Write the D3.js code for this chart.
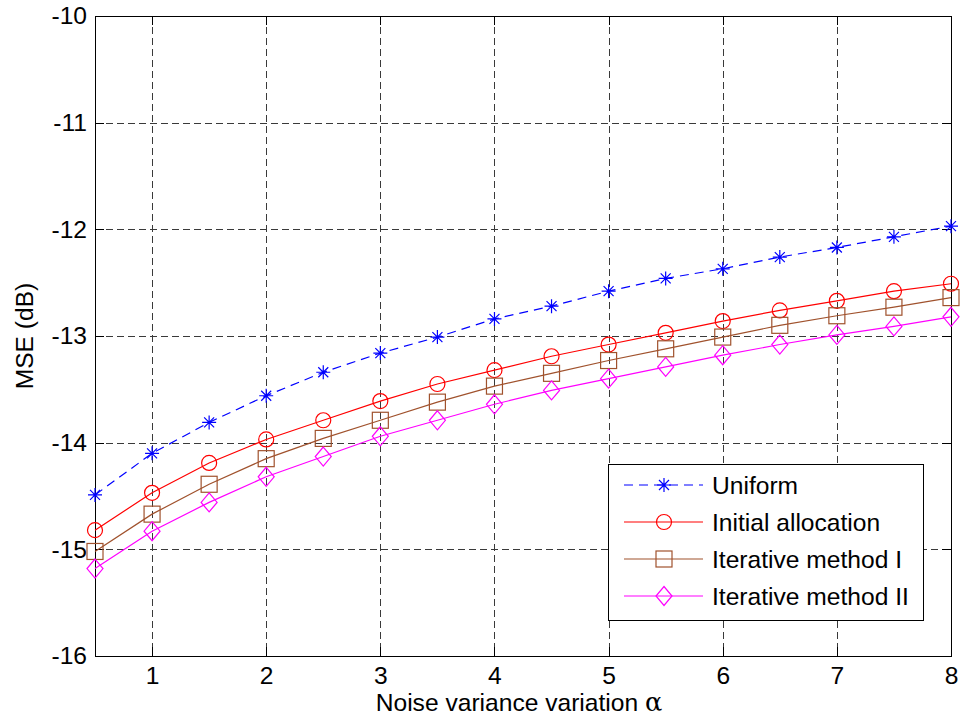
<!DOCTYPE html>
<html>
<head>
<meta charset="utf-8">
<script src="https://cdn.jsdelivr.net/npm/d3@7"></script>
<style>
  body { margin: 0; background: #fff; }
  text { font-family: "Liberation Sans", Arial, sans-serif; }
</style>
</head>
<body>
<div id="chart"></div>
<script>
// data
var alphas = [0.5, 1, 1.5, 2, 2.5, 3, 3.5, 4, 4.5, 5, 5.5, 6, 6.5, 7, 7.5, 8];
var uniform = [-14.49, -14.10, -13.81, -13.56, -13.34, -13.16, -13.01, -12.84, -12.72, -12.58, -12.46, -12.37, -12.26, -12.17, -12.07, -11.97];
var initialAlloc = [-14.82, -14.47, -14.19, -13.97, -13.79, -13.61, -13.45, -13.32, -13.19, -13.08, -12.97, -12.86, -12.76, -12.67, -12.58, -12.51];
var iterative1 = [-15.02, -14.67, -14.39, -14.15, -13.96, -13.79, -13.62, -13.47, -13.35, -13.23, -13.12, -13.01, -12.90, -12.81, -12.73, -12.64];
var iterative2 = [-15.18, -14.83, -14.56, -14.32, -14.13, -13.94, -13.79, -13.64, -13.51, -13.40, -13.29, -13.18, -13.08, -12.99, -12.91, -12.82];
var seriesNames = ["Uniform", "Initial allocation", "Iterative method I", "Iterative method II"];
var xTicks = [1, 2, 3, 4, 5, 6, 7, 8];
var yTicks = [-16, -15, -14, -13, -12, -11, -10];

var series = [
    {name: seriesNames[0], values: uniform, color: "#0000ff", marker: "star", dash: "9,6"},
    {name: seriesNames[1], values: initialAlloc, color: "#ff0000", marker: "circle", dash: null},
    {name: seriesNames[2], values: iterative1, color: "#a0522d", marker: "square", dash: null},
    {name: seriesNames[3], values: iterative2, color: "#ff00ff", marker: "diamond", dash: null}
];

var width = 963, height = 727;
var margin = {left: 95, right: 12, top: 16, bottom: 71};
var fontSize = 24.6;

var svg = d3.select("#chart").append("svg")
    .attr("width", width)
    .attr("height", height);

var x = d3.scaleLinear().domain([0.5, 8]).range([margin.left, width - margin.right]);
var y = d3.scaleLinear().domain([-16, -10]).range([height - margin.bottom, margin.top]);

var x0 = x.range()[0], x1 = x.range()[1], y0 = y.range()[0], y1 = y.range()[1];

// grid
var grid = svg.append("g").attr("class", "grid")
    .attr("stroke", "#3a3a3a")
    .attr("stroke-width", 1)
    .attr("stroke-dasharray", "7,4")
    .attr("shape-rendering", "crispEdges");
grid.selectAll("line.v")
    .data(xTicks.filter(function(d) { return d < 8; }))
    .enter().append("line")
    .attr("class", "v")
    .attr("x1", function(d) { return Math.round(x(d)) + 0.5; })
    .attr("x2", function(d) { return Math.round(x(d)) + 0.5; })
    .attr("y1", y1).attr("y2", y0);
grid.selectAll("line.h")
    .data(yTicks.filter(function(d) { return d > -16 && d < -10; }))
    .enter().append("line")
    .attr("class", "h")
    .attr("y1", function(d) { return Math.round(y(d)) + 0.5; })
    .attr("y2", function(d) { return Math.round(y(d)) + 0.5; })
    .attr("x1", x0).attr("x2", x1);

// axes, ticks point inward on all four sides
var tickLen = 9;
function styleAxis(g) {
    g.select(".domain").remove();
    g.selectAll("line").attr("stroke", "#000").attr("shape-rendering", "crispEdges");
    g.selectAll("text").attr("font-size", fontSize).attr("fill", "#000")
        .attr("font-family", "Liberation Sans, Arial, sans-serif");
}

svg.append("g")
    .attr("transform", "translate(0," + y0 + ")")
    .call(d3.axisBottom(x).tickValues(xTicks).tickSizeInner(-tickLen).tickSizeOuter(0).tickPadding(11).tickFormat(d3.format("d")))
    .call(styleAxis);
svg.append("g")
    .attr("transform", "translate(0," + y1 + ")")
    .call(d3.axisTop(x).tickValues(xTicks).tickSizeInner(-tickLen).tickSizeOuter(0).tickFormat(""))
    .call(styleAxis);
svg.append("g")
    .attr("transform", "translate(" + x0 + ",0)")
    .call(d3.axisLeft(y).tickValues(yTicks).tickSizeInner(-tickLen).tickSizeOuter(0).tickPadding(8).tickFormat(function(d) { return "-" + Math.abs(d); }))
    .call(styleAxis);
svg.append("g")
    .attr("transform", "translate(" + x1 + ",0)")
    .call(d3.axisRight(y).tickValues(yTicks).tickSizeInner(-tickLen).tickSizeOuter(0).tickFormat(""))
    .call(styleAxis);

svg.append("rect")
    .attr("x", x0 + 0.5).attr("y", y1 + 0.5)
    .attr("width", x1 - x0).attr("height", y0 - y1)
    .attr("fill", "none").attr("stroke", "#000").attr("stroke-width", 1)
    .attr("shape-rendering", "crispEdges");

// markers
function drawMarker(g, type, cx, cy, color) {
    if (type === "star") {
        var s = 7, d = 5;
        g.append("path")
            .attr("d", "M" + (cx - s) + "," + cy + "H" + (cx + s) +
                "M" + cx + "," + (cy - s) + "V" + (cy + s) +
                "M" + (cx - d) + "," + (cy - d) + "L" + (cx + d) + "," + (cy + d) +
                "M" + (cx - d) + "," + (cy + d) + "L" + (cx + d) + "," + (cy - d))
            .attr("stroke", color).attr("stroke-width", 1.2).attr("fill", "none");
    } else if (type === "circle") {
        g.append("circle").attr("cx", cx).attr("cy", cy).attr("r", 7.5)
            .attr("stroke", color).attr("stroke-width", 1.2).attr("fill", "none");
    } else if (type === "square") {
        g.append("rect").attr("x", cx - 8).attr("y", cy - 8).attr("width", 16).attr("height", 16)
            .attr("stroke", color).attr("stroke-width", 1.2).attr("fill", "none");
    } else if (type === "diamond") {
        g.append("path")
            .attr("d", "M" + cx + "," + (cy - 9.5) + "L" + (cx + 8) + "," + cy + "L" + cx + "," + (cy + 9.5) + "L" + (cx - 8) + "," + cy + "Z")
            .attr("stroke", color).attr("stroke-width", 1.2).attr("fill", "none");
    }
}

var line = d3.line()
    .x(function(d) { return x(d[0]); })
    .y(function(d) { return y(d[1]); });

series.forEach(function(s) {
    var pts = alphas.map(function(a, i) { return [a, s.values[i]]; });
    var g = svg.append("g").attr("class", "series");
    g.append("path")
        .datum(pts)
        .attr("d", line)
        .attr("fill", "none")
        .attr("stroke", s.color)
        .attr("stroke-width", 1.2)
        .attr("stroke-dasharray", s.dash);
    pts.forEach(function(p) {
        drawMarker(g, s.marker, x(p[0]), y(p[1]), s.color);
    });
});

// axis labels
svg.append("text")
    .attr("x", (x0 + x1) / 2 - 4)
    .attr("y", 711)
    .attr("text-anchor", "middle")
    .attr("font-size", fontSize)
    .text("Noise variance variation ")
    .append("tspan")
    .attr("font-family", "DejaVu Serif, serif")
    .attr("font-size", fontSize + 1)
    .text("α");

svg.append("text")
    .attr("transform", "translate(33," + (y0 + y1) / 2 + ") rotate(-90)")
    .attr("text-anchor", "middle")
    .attr("font-size", fontSize)
    .text("MSE (dB)");

// legend
var lg = svg.append("g").attr("class", "legend");
lg.append("rect")
    .attr("x", 608.5).attr("y", 464.5)
    .attr("width", 315).attr("height", 156)
    .attr("fill", "#fff").attr("stroke", "#000").attr("stroke-width", 1)
    .attr("shape-rendering", "crispEdges");
var rowY = d3.scaleLinear().domain([0, 3]).range([485, 596]);
series.forEach(function(s, i) {
    var cy = rowY(i);
    lg.append("line")
        .attr("x1", 624).attr("x2", 703).attr("y1", cy).attr("y2", cy)
        .attr("stroke", s.color).attr("stroke-width", 1.2)
        .attr("stroke-dasharray", s.dash);
    drawMarker(lg, s.marker, 664, cy, s.color);
    lg.append("text")
        .attr("x", 712).attr("y", cy)
        .attr("dy", "0.36em")
        .attr("font-size", fontSize)
        .text(s.name);
});
</script>
</body>
</html>
